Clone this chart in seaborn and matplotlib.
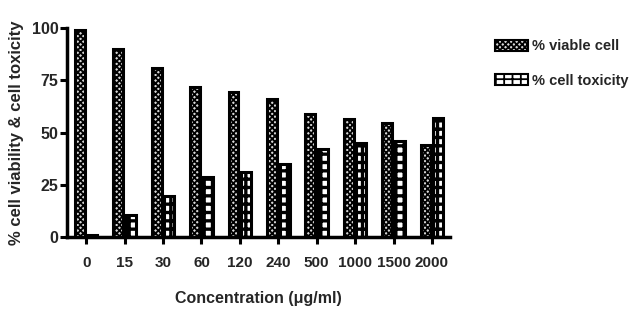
import matplotlib
matplotlib.use("Agg")
import matplotlib.pyplot as plt
import seaborn as sns
import pandas as pd
from matplotlib.patches import Patch

concentrations = ["0", "15", "30", "60", "120", "240", "500", "1000", "1500", "2000"]
viable = [99, 90, 81, 72, 69.5, 66, 59, 56.5, 54.5, 44]
toxicity = [1, 10.5, 19.5, 28.5, 31, 35, 42, 45, 46, 57]
series_names = ["% viable cell", "% cell toxicity"]
yticks = [0, 25, 50, 75, 100]

df = pd.DataFrame({
    "conc": concentrations * 2,
    "value": viable + toxicity,
    "series": [series_names[0]] * len(viable) + [series_names[1]] * len(toxicity),
})

sns.set_style("white")
plt.rcParams["font.family"] = ["Liberation Sans", "DejaVu Sans"]
plt.rcParams["font.weight"] = "bold"
plt.rcParams["hatch.linewidth"] = 1.3

fig = plt.figure(figsize=(6.32, 3.09), dpi=100)
ax = fig.add_axes([0.106, 0.233, 0.606, 0.676])

sns.barplot(data=df, x="conc", y="value", hue="series", order=concentrations,
            hue_order=series_names, width=0.66, gap=0.22, legend=False, ax=ax,
            palette=["#d8d8d8", "white"], edgecolor="black", linewidth=2.2)

n = len(concentrations)
hatches = ["xxxxxx"] * n + ["++"] * n
fills = ["#d8d8d8"] * n + ["white"] * n
hlw = [1.3] * n + [2.4] * n
for p, h, f, w in zip(ax.patches, hatches, fills, hlw):
    p.set_hatch(h)
    p.set_facecolor(f)
    p.set_edgecolor("black")
    if hasattr(p, "set_hatch_linewidth"):
        p.set_hatch_linewidth(w)

ax.set_ylim(0, 100)
ax.set_xlim(-0.5, 9.47)
ax.set_yticks(yticks)
ax.set_yticklabels([str(t) for t in yticks], fontsize=11.5, fontweight="bold")
ax.set_xticklabels(concentrations, fontsize=11, fontweight="bold")
ax.tick_params(axis="both", direction="out", length=5, width=2.2, color="black",
               bottom=True, left=True, pad=1)
ax.tick_params(axis="x", pad=9)
for s in ["top", "right"]:
    ax.spines[s].set_visible(False)
for s in ["left", "bottom"]:
    ax.spines[s].set_linewidth(2.5)
    ax.spines[s].set_color("black")

ax.set_xlabel("Concentration (μg/ml)", fontsize=11.5, fontweight="bold", labelpad=15)
ax.set_ylabel("% cell viability & cell toxicity", fontsize=12, fontweight="bold", labelpad=6)

handles = [Patch(facecolor="#d8d8d8", edgecolor="black", hatch="xxxxxx", linewidth=1.5),
           Patch(facecolor="white", edgecolor="black", hatch="++", linewidth=1.5)]
if hasattr(handles[1], "set_hatch_linewidth"):
    handles[1].set_hatch_linewidth(2.4)
fig.legend(handles, series_names, loc="upper left", bbox_to_anchor=(0.762, 0.915),
           frameon=False, fontsize=10.5, handlelength=2.3, handleheight=0.8,
           labelspacing=1.4, handletextpad=0.25)

fig.savefig("out.png", dpi=100)
